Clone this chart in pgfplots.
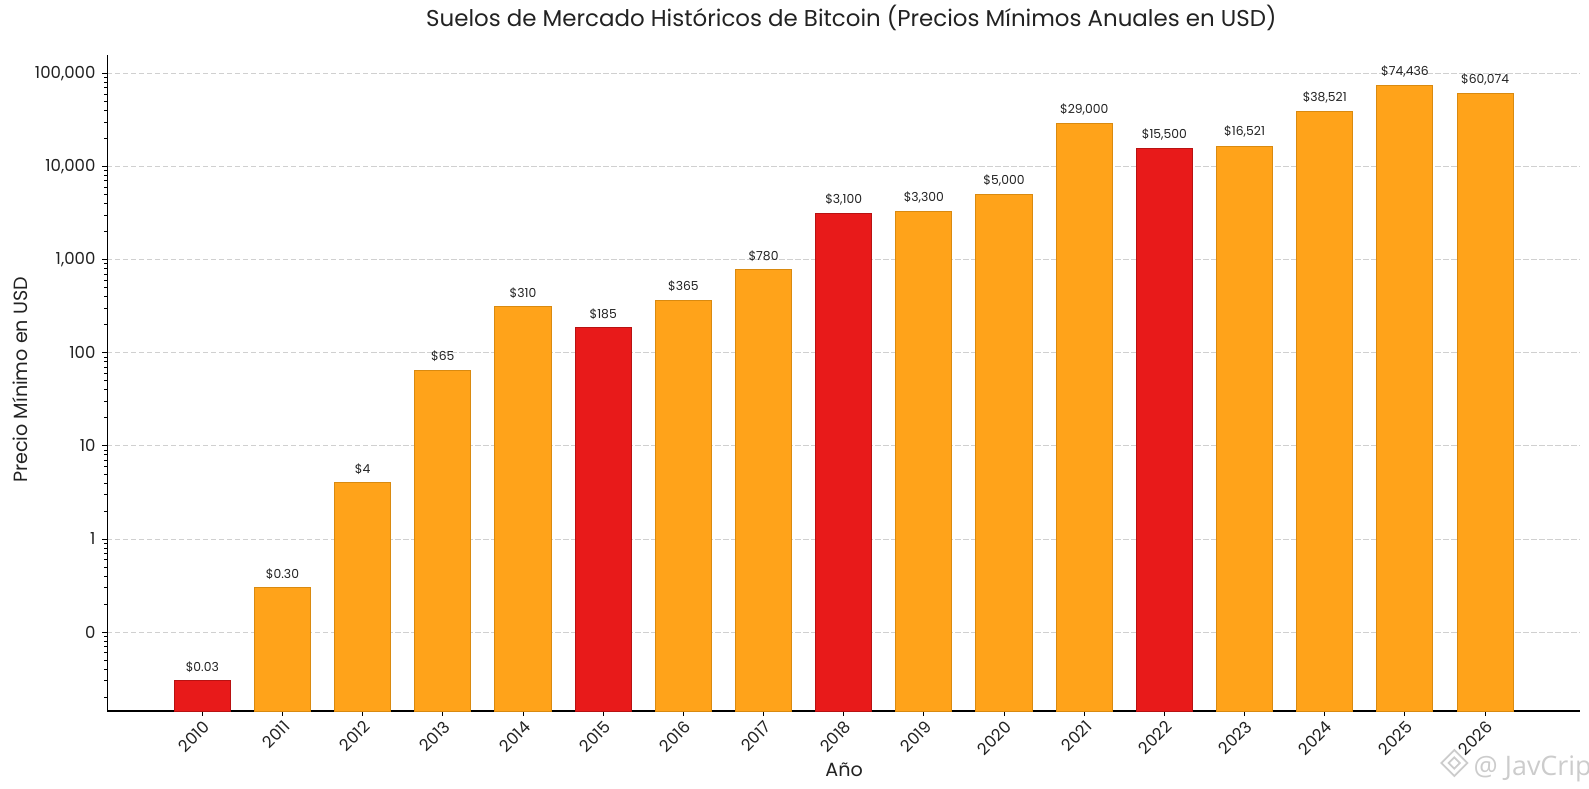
\documentclass[border=0pt]{standalone}
\usepackage{pgfplots}
\pgfplotsset{compat=1.18}
\usepackage{fontspec}
\setmainfont{Poppins}
\newfontfamily\wmfont{Open Sans}
\definecolor{barorange}{HTML}{FFA31A}
\definecolor{edgeorange}{HTML}{D98A10}
\definecolor{barred}{HTML}{E81A1A}
\definecolor{edgered}{HTML}{B81212}
\definecolor{gridgray}{HTML}{D0D0D0}
\definecolor{labgray}{HTML}{222222}
\definecolor{wmgray}{HTML}{CCCCCC}
\begin{document}
\begin{tikzpicture}
\useasboundingbox (-53.65bp,-39bp) rectangle (740.85bp,355.5bp);
\begin{axis}[
  at={(0,0)}, anchor=south west,
  scale only axis, width=736.4bp, height=328bp,
  ymode=log, log origin y=infty,
  xmin=-1.185, xmax=17.185, ymin=0.01425, ymax=157000,
  axis x line*=bottom, axis y line*=left,
  axis line style={black, line width=0.6bp},
  ybar, bar width=0.7, bar shift=0pt,
  xtick={0,1,2,3,4,5,6,7,8,9,10,11,12,13,14,15,16},
  xticklabels={2010,2011,2012,2013,2014,2015,2016,2017,2018,2019,2020,2021,2022,2023,2024,2025,2026},
  ytick={0.1,1,10,100,1000,10000,100000},
  yticklabels={0,1,10,100,{1,000},{10,000},{100,000}},
  minor ytick={0.02,0.03,0.04,0.05,0.06,0.07,0.08,0.09,0.2,0.3,0.4,0.5,0.6,0.7,0.8,0.9,2,3,4,5,6,7,8,9,20,30,40,50,60,70,80,90,200,300,400,500,600,700,800,900,2000,3000,4000,5000,6000,7000,8000,9000,20000,30000,40000,50000,60000,70000,80000,90000},
  tick align=outside,
  major tick length=2.4bp, minor tick length=1.4bp,
  tick style={black, line width=0.5bp},
  minor tick style={black, line width=0.4bp},
  /pgf/number format/assume math mode=true,
  xticklabel style={rotate=45, anchor=north east, font=\fontsize{8.2}{10}\selectfont, text=labgray, inner sep=1.2bp, yshift=0bp},
  yticklabel style={font=\fontsize{8.3}{10}\selectfont, text=labgray},
  ymajorgrids,
  major grid style={gridgray, line width=0.5bp, dash pattern=on 2.6bp off 1.4bp},
  nodes near coords,
  point meta=explicit symbolic,
  every node near coord/.append style={font=\fontsize{6.2}{7}\selectfont, text=labgray, anchor=south, yshift=0.6bp},
  clip=false,
]
\addplot[fill=barorange, draw=edgeorange, line width=0.5bp] coordinates {
  (1,0.30) [\$0.30]
  (2,4) [\$4]
  (3,65) [\$65]
  (4,310) [\$310]
  (6,365) [\$365]
  (7,780) [\$780]
  (9,3300) [\$3{,}300]
  (10,5000) [\$5{,}000]
  (11,29000) [\$29{,}000]
  (13,16521) [\$16{,}521]
  (14,38521) [\$38{,}521]
  (15,74436) [\$74{,}436]
  (16,60074) [\$60{,}074]
};
\addplot[fill=barred, draw=edgered, line width=0.5bp] coordinates {
  (0,0.03) [\$0.03]
  (5,185) [\$185]
  (8,3100) [\$3{,}100]
  (12,15500) [\$15{,}500]
};
\end{axis}
\node[anchor=base, font=\fontsize{11.5}{14}\selectfont, text=labgray] at (372bp,342bp) {Suelos de Mercado Históricos de Bitcoin (Precios Mínimos Anuales en USD)};
\node[anchor=base, font=\fontsize{9.6}{12}\selectfont, text=labgray] at (368.4bp,-32.5bp) {Año};
\node[rotate=90, font=\fontsize{9.6}{12}\selectfont, text=labgray] at (-43.8bp,165.5bp) {Precio Mínimo en USD};
\node[anchor=base west, font=\wmfont\fontsize{13.5}{15}\selectfont, text=wmgray, inner sep=0pt] at (683bp,-32bp) {@ JavCrip};
\begin{scope}[shift={(673.5bp,-26bp)}, draw=wmgray, line width=0.9bp]
  \draw (0,6.5bp) -- (6.5bp,0) -- (0,-6.5bp) -- (-6.5bp,0) -- cycle;
  \draw (0,2.8bp) -- (2.8bp,0) -- (0,-2.8bp) -- (-2.8bp,0) -- cycle;
\end{scope}
\end{tikzpicture}
\end{document}
